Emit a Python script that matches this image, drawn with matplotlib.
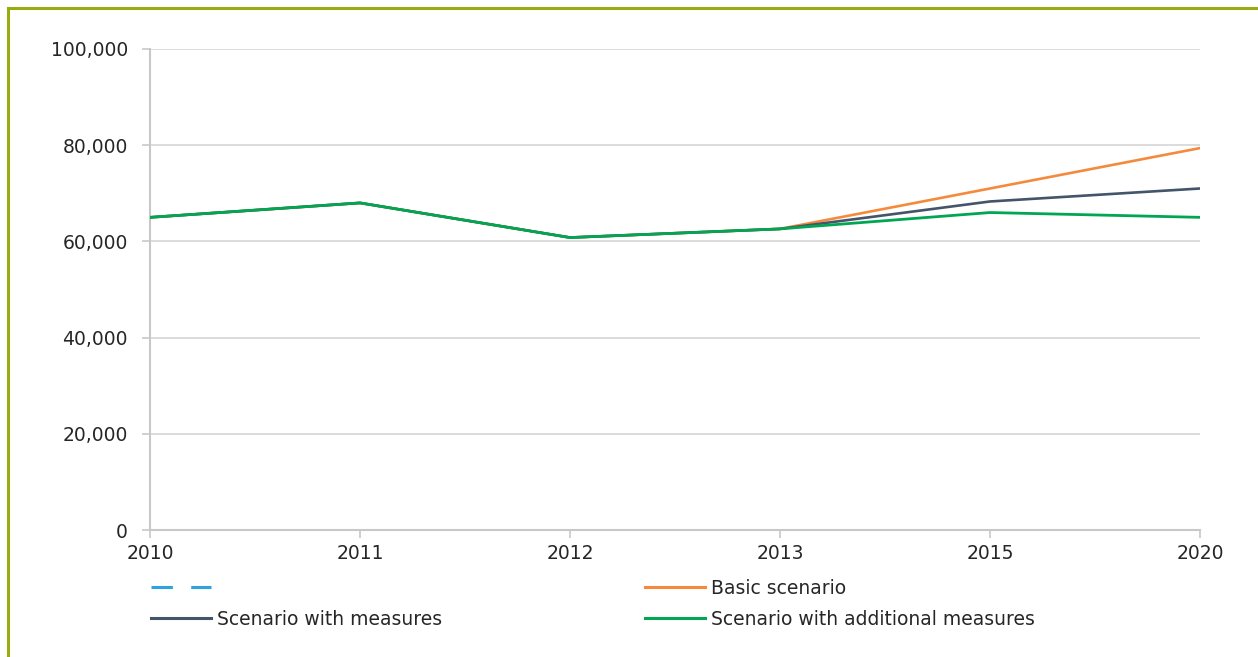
import matplotlib
matplotlib.use("Agg")
import matplotlib.pyplot as plt
from matplotlib.lines import Line2D
from matplotlib.patches import Rectangle
from matplotlib.ticker import FuncFormatter

years = ["2010", "2011", "2012", "2013", "2015", "2020"]
basic = [65000, 68000, 60800, 62600, 71000, 79400]
with_measures = [65000, 68000, 60800, 62600, 68300, 71000]
additional = [65000, 68000, 60800, 62600, 66000, 65000]
y_ticks = [0, 20000, 40000, 60000, 80000, 100000]

c_basic = "#f58a3c"
c_meas = "#44546a"
c_add = "#00a651"
c_dash = "#2ea3dd"
txt = "#262626"

plt.rcParams['font.family'] = ['DejaVu Sans']
fig = plt.figure(figsize=(12.58, 6.57), dpi=100)
ax = fig.add_axes([150/1258, 1-530/657, 1050/1258, 481/657])

x = list(range(len(years)))
ax.plot(x, basic, color=c_basic, lw=1.9, zorder=3)
ax.plot(x, with_measures, color=c_meas, lw=1.9, zorder=4)
ax.plot(x, additional, color=c_add, lw=2.0, zorder=5)

ax.set_xlim(0, len(years)-1)
ax.set_ylim(0, 100000)
ax.set_xticks(x)
ax.set_xticklabels(years)
ax.set_yticks(y_ticks)
ax.yaxis.set_major_formatter(FuncFormatter(lambda v, p: f"{int(v):,}"))
ax.grid(axis='y', color='#d9d9d9', lw=1.3)
ax.set_axisbelow(True)
for s in ['top', 'right']:
    ax.spines[s].set_visible(False)
for s in ['left', 'bottom']:
    ax.spines[s].set_color('#c8c8c8')
    ax.spines[s].set_linewidth(1.5)
ax.tick_params(axis='both', colors='#c8c8c8', length=6, width=1.2,
               labelcolor=txt, labelsize=13.5)
ax.tick_params(axis='x', pad=4)
ax.tick_params(axis='y', pad=10)

handles = [
    Line2D([], [], color=c_dash, lw=2.2, dashes=(7, 6)),
    Line2D([], [], color=c_meas, lw=2.2),
    Line2D([], [], color=c_basic, lw=2.2),
    Line2D([], [], color=c_add, lw=2.2),
]
labels = [" ", "Scenario with measures", "Basic scenario", "Scenario with additional measures"]
leg = fig.legend(handles, labels, ncol=2, loc='upper left',
                 bbox_to_anchor=(143/1258, 1-571/657), frameon=False,
                 fontsize=13.5, handlelength=3.2, handletextpad=0.35,
                 columnspacing=10.8, labelspacing=0.66, borderaxespad=0)
for t in leg.get_texts():
    t.set_color(txt)

fig.add_artist(Rectangle((8/1258, -0.05), 1.2, 1-8/657+0.05, transform=fig.transFigure,
                         fill=False, edgecolor='#9aab12', lw=2.2))

fig.savefig("out.png", dpi=100)
